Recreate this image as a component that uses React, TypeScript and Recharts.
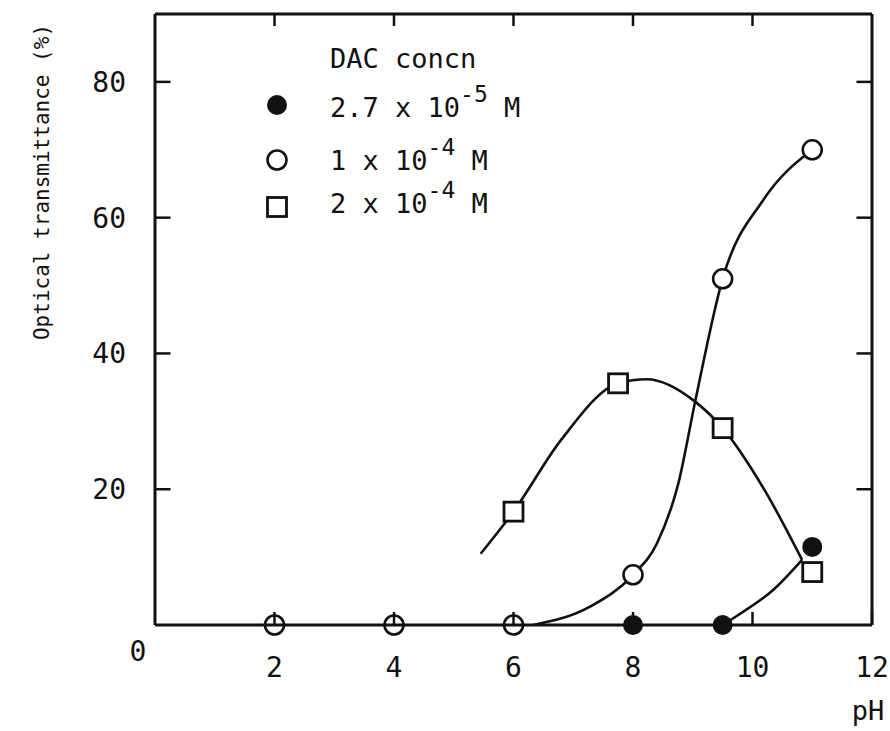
import { ComposedChart, Line, Scatter, XAxis, YAxis, ReferenceLine, Customized } from 'recharts';

const INK = '#111';
const FONT = '"DejaVu Sans Mono", monospace';

const phTicks = [2, 4, 6, 8, 10, 12];
const frameTicksX = [2, 4, 6, 8, 10];
const transTicks = [0, 20, 40, 60, 80];
const frameTicksY = [20, 40, 60, 80];

// measured points
const filledPh = [8, 9.5, 11];
const filledT = [0, 0, 11.5];
const openPh = [2, 4, 6, 8, 9.5, 11];
const openT = [0, 0, 0, 7.4, 51, 70];
const squarePh = [6, 7.75, 9.5, 11];
const squareT = [16.7, 35.6, 29, 7.8];

// hand drawn curves
const filledCurvePh = [9.5, 9.8, 10.35, 10.83];
const filledCurveT = [0, 1.7, 5.2, 9.6];
const openCurvePh = [6.33, 7.28, 8, 8.4, 8.76, 9.04, 9.5, 10.18, 11];
const openCurveT = [0, 2.7, 7.4, 12, 20.9, 32.9, 51, 62.6, 70];
const squareCurvePh = [5.45, 6, 6.8, 7.75, 8.23, 9.04, 9.5, 10.2, 10.83];
const squareCurveT = [10.5, 16.7, 27.3, 35.6, 36.2, 32.9, 29, 19.9, 9.6];

const legendTitle = 'DAC concn';
const legendMarks = ['filled', 'open', 'square'];
const legendMantissa = ['2.7', '1', '2'];
const legendExp = ['-5', '-4', '-4'];

const X_MAX = 12;
const Y_MAX = 90;
// inward tick length of the side frames, in pH units
const SIDE_TICK = 0.26;

const zip = (ph: number[], t: number[]) => ph.map((p, i) => ({ ph: p, t: t[i] }));

const filledPts = zip(filledPh, filledT);
const openPts = zip(openPh, openT);
const squarePts = zip(squarePh, squareT);
const filledCurve = zip(filledCurvePh, filledCurveT);
const openCurve = zip(openCurvePh, openCurveT);
const squareCurve = zip(squareCurvePh, squareCurveT);
const topTicks = frameTicksX.map((v) => ({ ph: v, t: Y_MAX }));

function Mark({ kind, cx, cy, hollow }: { kind: string; cx: number; cy: number; hollow?: boolean }) {
  if (kind === 'filled') return <circle cx={cx} cy={cy} r={10} fill={INK} />;
  if (kind === 'open')
    return <circle cx={cx} cy={cy} r={9.5} fill={hollow ? 'none' : '#fff'} stroke={INK} strokeWidth={2.6} />;
  return <rect x={cx - 9.5} y={cy - 9.5} width={19} height={19} fill="#fff" stroke={INK} strokeWidth={2.8} />;
}

function XTick({ x, y, payload }: any) {
  return (
    <text x={x} y={y} textAnchor="middle" fontFamily={FONT} fontSize={28} fill={INK}>
      {payload.value}
    </text>
  );
}

function YTick({ x, y, payload }: any) {
  if (payload.value === 0) {
    return (
      <text x={138} y={y + 36} textAnchor="middle" fontFamily={FONT} fontSize={28} fill={INK}>
        0
      </text>
    );
  }
  return (
    <text x={x} y={y} dy={10} textAnchor="end" fontFamily={FONT} fontSize={28} fill={INK}>
      {payload.value}
    </text>
  );
}

function Annotations() {
  const rowY = [105, 160, 207];
  const baseY = [117, 170, 213];
  return (
    <g fontFamily={FONT} fill={INK}>
      <text
        x={42}
        y={182}
        transform="rotate(-90 42 182)"
        textAnchor="middle"
        dominantBaseline="central"
        fontSize={21}
      >
        Optical transmittance (%)
      </text>
      <text x={868} y={720} textAnchor="middle" fontSize={27}>
        pH
      </text>
      <text x={330} y={68} fontSize={27}>
        {legendTitle}
      </text>
      {legendMarks.map((k, i) => (
        <g key={k}>
          <Mark kind={k} cx={277} cy={rowY[i]} />
          <text x={330} y={baseY[i]} fontSize={27}>
            {legendMantissa[i]} x 10
            <tspan fontSize={23} dy={-15}>
              {legendExp[i]}
            </tspan>
            <tspan dy={15}> M</tspan>
          </text>
        </g>
      ))}
    </g>
  );
}

export default function App() {
  const axisLine = { stroke: INK, strokeWidth: 3 };
  const tickLine = { stroke: INK, strokeWidth: 2.5 };
  const frameTick = { xAxisId: 'b', yAxisId: 'l', stroke: INK, strokeWidth: 2.5, ifOverflow: 'visible' as const };
  return (
    <div style={{ position: 'absolute', left: 0, top: 0, background: '#fff' }}>
      <ComposedChart width={890} height={731} margin={{ top: 13, right: 17, bottom: 0, left: 0 }}>
        <XAxis
          xAxisId="b"
          dataKey="ph"
          type="number"
          domain={[0, X_MAX]}
          ticks={phTicks}
          height={106}
          axisLine={axisLine}
          tickLine={tickLine}
          tickSize={-13}
          tickMargin={65}
          tick={<XTick />}
          interval={0}
        />
        <XAxis
          xAxisId="t"
          orientation="top"
          type="number"
          domain={[0, X_MAX]}
          height={1}
          axisLine={axisLine}
          tickLine={false}
          tick={false}
        />
        <YAxis
          yAxisId="l"
          dataKey="t"
          type="number"
          domain={[0, Y_MAX]}
          ticks={transTicks}
          width={155}
          axisLine={axisLine}
          tickLine={false}
          tickSize={-15}
          tickMargin={44}
          tick={<YTick />}
          interval={0}
        />
        <YAxis
          yAxisId="r"
          orientation="right"
          type="number"
          domain={[0, Y_MAX]}
          width={1}
          axisLine={axisLine}
          tickLine={false}
          tick={false}
        />
        {frameTicksY.map((v) => (
          <ReferenceLine key={'l' + v} {...frameTick} segment={[{ x: 0, y: v }, { x: SIDE_TICK, y: v }]} />
        ))}
        {frameTicksY.map((v) => (
          <ReferenceLine key={'r' + v} {...frameTick} segment={[{ x: X_MAX - SIDE_TICK, y: v }, { x: X_MAX, y: v }]} />
        ))}
        <Scatter
          xAxisId="b"
          yAxisId="l"
          data={topTicks}
          dataKey="t"
          isAnimationActive={false}
          shape={(p: any) => <line x1={p.cx} x2={p.cx} y1={p.cy} y2={p.cy + 12} stroke={INK} strokeWidth={2.5} />}
        />
        <Line xAxisId="b" yAxisId="l" data={openCurve} dataKey="t" type="monotone" stroke={INK} strokeWidth={2.6} dot={false} activeDot={false} isAnimationActive={false} />
        <Line xAxisId="b" yAxisId="l" data={squareCurve} dataKey="t" type="monotone" stroke={INK} strokeWidth={2.6} dot={false} activeDot={false} isAnimationActive={false} />
        <Line xAxisId="b" yAxisId="l" data={filledCurve} dataKey="t" type="monotone" stroke={INK} strokeWidth={2.6} dot={false} activeDot={false} isAnimationActive={false} />
        <Scatter
          xAxisId="b"
          yAxisId="l"
          data={squarePts}
          dataKey="t"
          isAnimationActive={false}
          shape={(p: any) => <Mark kind="square" cx={p.cx} cy={p.cy} />}
        />
        <Scatter
          xAxisId="b"
          yAxisId="l"
          data={openPts}
          dataKey="t"
          isAnimationActive={false}
          shape={(p: any) => <Mark kind="open" cx={p.cx} cy={p.cy} hollow={p.payload.t === 0} />}
        />
        <Scatter
          xAxisId="b"
          yAxisId="l"
          data={filledPts}
          dataKey="t"
          isAnimationActive={false}
          shape={(p: any) => <Mark kind="filled" cx={p.cx} cy={p.cy} />}
        />
        <Customized component={Annotations} />
      </ComposedChart>
    </div>
  );
}
